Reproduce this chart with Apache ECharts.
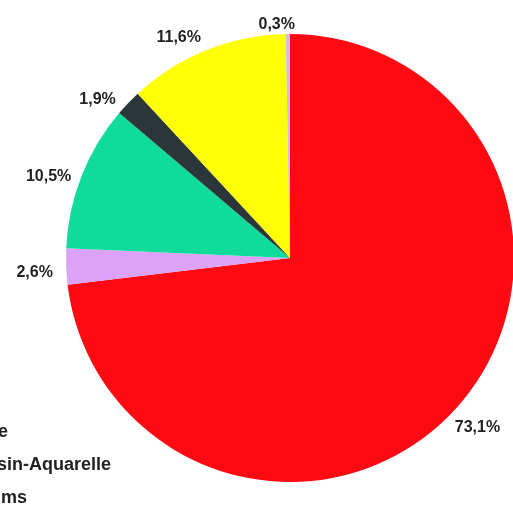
<!DOCTYPE html>
<html lang="en">
    <head>
        <meta charset="utf-8">
        <title>Pie</title>
        <script type="text/javascript" src="https://cdn.jsdelivr.net/npm/echarts@6/dist/echarts.min.js"></script>
        <style>
            html, body { margin: 0; padding: 0; background: #fff; }
            #chart { width: 513px; height: 506px; }
        </style>
    </head>
    <body>
        <div id="chart"></div>
        <script>
            // slices, clockwise from 12 o'clock
            var sliceNames = ['a', 'b', 'c', 'd', 'e', 'f'];
            var sliceValues = [73.1, 2.6, 10.5, 1.9, 11.6, 0.3];
            // legend fragments visible at the left edge (cut off)
            var legendTexts = ['e', 'sin-Aquarelle', 'ms'];

            // styles
            var sliceColors = ['#fe0a12', '#dca2f6', '#0fdb9b', '#2b3638', '#ffff05', '#c9c2de'];
            var labelNudge = [[-2, 2], [-6, 5], [-4, 12], [-12, 14], [-19, 8], [-11, 6]];
            var legendRight = [8, 111, 27];
            var legendY = [432, 465, 498];

            var cx = 290, cy = 258, R = 224;
            var gap = 7; // space between pie rim and label box

            var myChart = echarts.init(document.getElementById('chart'));

            var data = [];
            for (var i = 0; i < sliceValues.length; i++) {
                data.push({
                    name: sliceNames[i],
                    value: sliceValues[i],
                    itemStyle: { color: sliceColors[i] }
                });
            }

            var texts = [];
            for (var j = 0; j < legendTexts.length; j++) {
                texts.push({
                    type: 'text',
                    x: legendRight[j],
                    y: legendY[j],
                    style: {
                        text: legendTexts[j],
                        textAlign: 'right',
                        textVerticalAlign: 'middle',
                        font: 'bold 18px "Liberation Sans", Arial, sans-serif',
                        fill: '#222'
                    }
                });
            }

            // push each label out along its slice's mid ray so that the box sits just off the rim
            function placeLabel(params) {
                var r = params.labelRect;
                var lx = r.x + r.width / 2, ly = r.y + r.height / 2;
                var dx = lx - cx, dy = ly - cy;
                var len = Math.sqrt(dx * dx + dy * dy) || 1;
                dx /= len; dy /= len;
                var ext = r.width / 2 * Math.abs(dx) + r.height / 2 * Math.abs(dy);
                var d = R + gap + ext;
                var n = labelNudge[params.dataIndex] || [0, 0];
                return {
                    x: cx + dx * d + n[0],
                    y: cy + dy * d + n[1],
                    align: 'center',
                    verticalAlign: 'middle'
                };
            }

            var option = {
                animation: false,
                backgroundColor: '#fff',
                graphic: texts,
                series: [{
                    type: 'pie',
                    center: [cx, cy],
                    radius: [0, R],
                    startAngle: 90,
                    clockwise: true,
                    silent: true,
                    avoidLabelOverlap: false,
                    itemStyle: { borderWidth: 0 },
                    label: {
                        show: true,
                        position: 'inside',
                        fontFamily: '"Liberation Sans", Arial, sans-serif',
                        fontWeight: 'bold',
                        fontSize: 16,
                        color: '#222',
                        formatter: function (p) {
                            return p.value.toFixed(1).replace('.', ',') + '%';
                        }
                    },
                    labelLine: { show: false },
                    labelLayout: placeLabel,
                    emphasis: { disabled: true },
                    data: data
                }]
            };
            myChart.setOption(option);
        </script>
    </body>
</html>
